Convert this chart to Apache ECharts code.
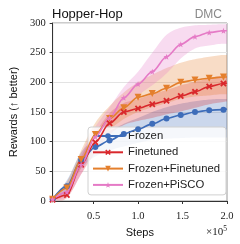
<!DOCTYPE html>
<html><head><meta charset="utf-8">
<script src="https://cdn.jsdelivr.net/npm/echarts@6/dist/echarts.min.js"></script>
<style>html,body{margin:0;padding:0;background:#fff}#c{width:240px;height:244px}</style>
</head><body><div id="c"></div>
<script>
var steps = [0.04,0.20,0.36,0.52,0.68,0.84,1.00,1.16,1.32,1.48,1.64,1.80,1.96,2.00];
var xTicks = [0.5,1.0,1.5,2.0];
var seriesNames = ['Frozen','Finetuned','Frozen+Finetuned','Frozen+PiSCO'];
var frozen        = [3,25,69,91,102,113,121,130,139,145,150,153,154,155];
var frozenLo      = [1,15,55,75,85,92,98,103,105,106,107,107,107,107];
var frozenHi      = [5,35,82,105,118,130,140,150,158,164,168,171,172,172];
var finetuned     = [2,10,61,99,131,150,156,163,169,177,184,193,198,199];
var finetunedLo   = [1,5,45,82,112,128,135,140,146,151,157,163,167,168];
var finetunedHi   = [4,18,75,115,148,165,172,180,187,195,201,207,212,213];
var frozenFt      = [3,22,70,112,139,157,175,181,190,200,204,207,209,209];
var frozenFtLo    = [1,12,55,95,120,138,150,158,165,172,176,178,180,180];
var frozenFtHi    = [5,32,85,132,160,183,200,213,224,233,239,243,246,246];
var pisco         = [3,15,61,108,140,174,197,218,243,264,277,284,287,287];
var piscoLo       = [1,8,45,95,125,155,178,195,215,240,257,262,265,265];
var piscoHi       = [5,26,80,125,158,192,218,250,280,292,296,297,298,298];

var colors = ['#3d6cb9','#d9282c','#e47f2c','#e57ac6'];
var symbols = ['circle',
  'path://M2,0 L5,3 L8,0 L10,2 L7,5 L10,8 L8,10 L5,7 L2,10 L0,8 L3,5 L0,2 Z',
  'triangle',
  'path://M5,0 L6.2,3.5 L10,3.6 L7,5.9 L8.1,9.5 L5,7.4 L1.9,9.5 L3,5.9 L0,3.6 L3.8,3.5 Z'];
var symRot = [0,0,180,0];
var symSize = [6,6.5,7,6];
var means = [frozen, finetuned, frozenFt, pisco];
var los = [frozenLo, finetunedLo, frozenFtLo, piscoLo];
var his = [frozenHi, finetunedHi, frozenFtHi, piscoHi];

function smoothPts(p){
  var n=p.length, out=[], m=[];
  for (var i=0;i<n;i++){
    var d0 = i>0 ? (p[i][1]-p[i-1][1])/(p[i][0]-p[i-1][0]) : null;
    var d1 = i<n-1 ? (p[i+1][1]-p[i][1])/(p[i+1][0]-p[i][0]) : null;
    if (d0===null) m.push(d1); else if (d1===null) m.push(d0);
    else if (d0*d1<=0) m.push(0); else m.push((d0+d1)/2);
  }
  for (var i=0;i<n-1;i++){
    var x0=p[i][0], x1=p[i+1][0], h=x1-x0;
    for (var s=0;s<8;s++){
      var t=s/8, t2=t*t, t3=t2*t;
      var y = (2*t3-3*t2+1)*p[i][1] + (t3-2*t2+t)*h*m[i] + (-2*t3+3*t2)*p[i+1][1] + (t3-t2)*h*m[i+1];
      out.push([x0+t*h, y]);
    }
  }
  out.push(p[n-1]);
  return out;
}

var series = [];
for (var k=0;k<4;k++){
  (function(k){
    series.push({type:'custom', silent:true, clip:true, z:1,
      data: steps.map(function(x,i){return [x, los[k][i], his[k][i]];}),
      encode:{x:0, y:[1,2]},
      renderItem:function(params, api){
        if (params.dataIndex !== 0) return null;
        var upper = [], lower = [];
        for (var i=0;i<steps.length;i++){
          upper.push(api.coord([steps[i], his[k][i]]));
          lower.push(api.coord([steps[i], los[k][i]]));
        }
        var pts = smoothPts(upper).concat(smoothPts(lower).reverse());
        return {type:'polygon', shape:{points:pts},
          style:{fill:colors[k], opacity:0.27}};
      }});
  })(k);
}
for (var k=0;k<4;k++){
  (function(k){
    series.push({type:'line', name:seriesNames[k], smooth:0.3, smoothMonotone:'x', z:5,
      symbol:symbols[k], symbolRotate:symRot[k], symbolSize:symSize[k], showAllSymbol:true,
      color:colors[k], lineStyle:{width:1.6, color:colors[k]}, itemStyle:{color:colors[k]},
      data: steps.map(function(x,i){
        return i===steps.length-1 ? {value:[x, means[k][i]], symbol:'none'} : [x, means[k][i]];
      })});
  })(k);
}

var chart = echarts.init(document.getElementById('c'), null, {renderer:'canvas'});
chart.setOption({
  animation:false,
  backgroundColor:'#fff',
  title:[
    {text:'Hopper-Hop', left:47, top:3, textStyle:{fontFamily:'Liberation Sans', fontSize:13, fontWeight:'normal', color:'#111'}},
    {text:'DMC', right:13, top:4, textStyle:{fontFamily:'Liberation Sans', fontSize:12, fontWeight:'normal', color:'#888'}}
  ],
  grid:{left:49, right:13, top:23, bottom:43, show:true, borderColor:'#999', borderWidth:1},
  xAxis:{type:'value', min:0.04, max:2.0,
    name:'Steps', nameLocation:'middle', nameGap:26,
    nameTextStyle:{fontFamily:'Liberation Sans', fontSize:11, color:'#111'},
    axisLine:{lineStyle:{color:'#333', width:1}},
    axisTick:{show:true, length:3, customValues:xTicks, lineStyle:{color:'#333'}},
    axisLabel:{customValues:xTicks, margin:10, fontFamily:'Liberation Serif', fontSize:10.5, color:'#222',
      formatter:function(v){return v.toFixed(1);}},
    splitLine:{show:false}},
  yAxis:{type:'value', min:0, max:300, interval:50,
    name:'Rewards (↑ better)', nameLocation:'middle', nameGap:33,
    nameTextStyle:{fontFamily:'Liberation Sans', fontSize:11, color:'#111'},
    axisLine:{show:true, lineStyle:{color:'#333', width:1}},
    axisTick:{show:true, length:3, lineStyle:{color:'#333'}},
    axisLabel:{margin:7, fontFamily:'Liberation Serif', fontSize:10.5, color:'#222'},
    splitLine:{show:true, lineStyle:{color:'#e3e3e3', width:1}}},
  legend:{data:seriesNames, orient:'vertical', left:88, top:127,
    itemWidth:30, itemHeight:7, itemGap:2.3,
    padding:[2,6,3,4], backgroundColor:'rgba(255,255,255,0.8)', borderColor:'#d0d0d0', borderWidth:1, borderRadius:3,
    textStyle:{fontFamily:'Liberation Sans', fontSize:11.3, color:'#222', lineHeight:14, padding:[0,0,0,0]}},
  graphic:[{type:'text', right:13, top:225,
    style:{text:'×10{s|5}', font:'11px "Liberation Serif"', fill:'#222',
      rich:{s:{fontSize:7.5, fontFamily:'Liberation Serif', verticalAlign:'top', padding:[0,0,6,0]}}}}],
  series:series
});
</script></body></html>
